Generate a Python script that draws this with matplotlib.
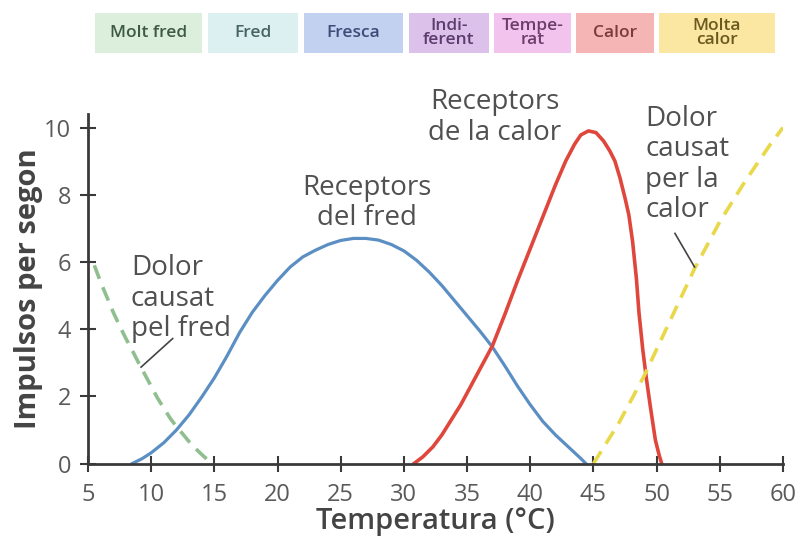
import matplotlib.pyplot as plt
from matplotlib.patches import Rectangle

# curves (temperature degC, impulses per second)
cold_pain_x = [5.5, 6, 6.5, 7, 7.5, 8, 8.5, 9, 9.5, 10, 10.5, 11, 11.5, 12, 12.5,
               13, 13.5, 14, 14.5, 15]
cold_pain_y = [5.9, 5.4, 4.95, 4.5, 4.1, 3.72, 3.37, 3.0, 2.65, 2.3, 1.95, 1.65, 1.35,
               1.1, 0.88, 0.65, 0.45, 0.27, 0.1, 0.0]

cold_x = [8.5, 9.3, 10, 11, 12, 13, 14, 15, 16, 17, 18, 19, 20, 21, 22, 23, 24, 25,
          26, 27, 28, 29, 30, 31, 32, 33, 34, 35, 36, 37, 38, 39, 40, 41, 42, 43, 44, 44.4]
cold_y = [0.0, 0.15, 0.32, 0.62, 1.0, 1.45, 1.98, 2.55, 3.2, 3.9, 4.5, 5.0, 5.45,
          5.85, 6.15, 6.35, 6.52, 6.64, 6.7, 6.7, 6.65, 6.52, 6.33, 6.05, 5.7, 5.3,
          4.85, 4.4, 3.95, 3.47, 2.9, 2.3, 1.75, 1.25, 0.85, 0.5, 0.15, 0.0]

heat_x = [30.8, 31.5, 32.3, 33, 33.5, 34.5, 35.5, 36.5, 37, 38, 39, 40, 41, 42, 42.8,
          43.5, 44, 44.6, 45.2, 45.8, 46.3, 46.7, 47.1, 47.5, 47.8, 48.1, 48.4, 48.6,
          48.9, 49.2, 49.5, 49.9, 50.2, 50.4]
heat_y = [0.0, 0.2, 0.5, 0.85, 1.15, 1.75, 2.45, 3.15, 3.5, 4.45, 5.45, 6.4, 7.35,
          8.3, 9.0, 9.5, 9.78, 9.9, 9.85, 9.6, 9.3, 9.0, 8.5, 7.9, 7.4, 6.6, 5.5, 4.5,
          3.4, 2.5, 1.7, 0.7, 0.25, 0.0]

heat_pain_x = [45, 47, 49, 51, 53, 55, 57, 59, 60]
heat_pain_y = [0.0, 1.2, 2.6, 4.2, 5.8, 7.2, 8.4, 9.5, 10.0]

x_ticks = [5, 10, 15, 20, 25, 30, 35, 40, 45, 50, 55, 60]
y_ticks = [0, 2, 4, 6, 8, 10]

bands = ["Molt fred", "Fred", "Fresca", "Indi-\nferent", "Tempe-\nrat", "Calor", "Molta\ncalor"]
band_px = [(95, 202), (208, 298), (304, 403), (409, 489), (494, 571), (576, 654), (659, 775)]
band_fill = ["#dcefdc", "#dcf0f2", "#c3d1f1", "#dcc2eb", "#f1c3ed", "#f6b5b5", "#fbe6a2"]
band_text = ["#3e5a46", "#46655f", "#3d4c78", "#5b3c6d", "#6d3d69", "#7c3a3a", "#6b5a1f"]

plt.rcParams['font.family'] = ['Open Sans', 'DejaVu Sans']

W, H = 803, 546
fig = plt.figure(figsize=(W / 100, H / 100), dpi=100)
ax = fig.add_axes([88 / W, 0.151, 695 / W, 0.640])

ax.plot(cold_pain_x, cold_pain_y, color="#8fbf8f", lw=2.6, ls=(0, (4, 2.5)))
ax.plot(cold_x, cold_y, color="#5b8fc4", lw=2.3)
ax.plot(heat_x, heat_y, color="#e0473c", lw=2.6)
ax.plot(heat_pain_x, heat_pain_y, color="#e8d84a", lw=2.6, ls=(0, (4, 2.5)))

ax.set_xlim(5, 60)
ax.set_ylim(0, 10.4)
ax.set_xticks(x_ticks)
ax.set_yticks(y_ticks)
for s in ["top", "right"]:
    ax.spines[s].set_visible(False)
for s in ["left", "bottom"]:
    ax.spines[s].set_color("#3a3a3a")
    ax.spines[s].set_linewidth(2)
ax.tick_params(direction="inout", length=12, width=1.5, color="#3a3a3a",
               labelsize=17, labelcolor="#5a5a5a")
ax.tick_params(axis="x", pad=8)
ax.tick_params(axis="y", pad=6)

ax.set_xlabel("Temperatura (°C)", fontsize=21, color="#444444", fontweight="semibold", labelpad=0)
ax.set_ylabel("Impulsos per segon", fontsize=21, color="#444444", fontweight="bold", labelpad=1)

tkw = dict(fontsize=20, color="#505050", linespacing=1.12)
ax.text(8.4, 4.9, "Dolor\ncausat\npel fred", ha="left", va="center", **tkw)
ax.text(27.1, 7.75, "Receptors\ndel fred", ha="center", va="center", **tkw)
ax.text(37.2, 10.3, "Receptors\nde la calor", ha="center", va="center", clip_on=False, **tkw)
ax.text(49.1, 8.9, "Dolor\ncausat\nper la\ncalor", ha="left", va="center", **tkw)
ax.plot([9.2, 11.7], [2.87, 3.72], color="#444444", lw=1.2)
ax.plot([51.45, 53.0], [6.85, 5.85], color="#444444", lw=1.2)

for (x0, x1), name, fc, tc in zip(band_px, bands, band_fill, band_text):
    fig.patches.append(Rectangle((x0 / W, 1 - 53 / H), (x1 - x0) / W, 40 / H,
                                 transform=fig.transFigure, facecolor=fc, edgecolor="none"))
    fig.text((x0 + x1) / 2 / W, 1 - 33 / H, name, ha="center", va="center",
             fontsize=12.5, fontweight="semibold", color=tc, linespacing=0.9)

fig.savefig("out.png", dpi=100, facecolor="white")
